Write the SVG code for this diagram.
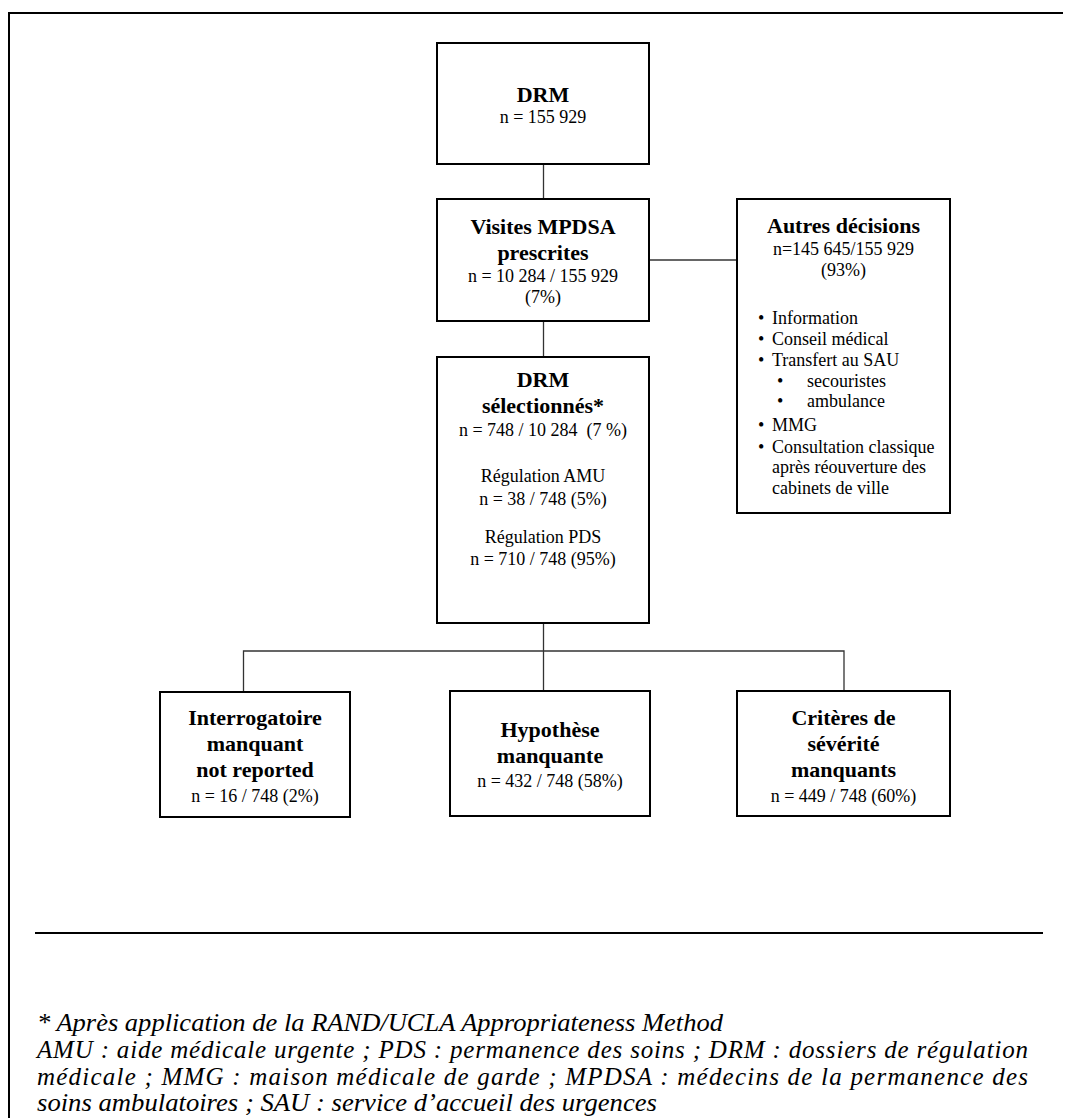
<svg xmlns="http://www.w3.org/2000/svg" width="1073" height="1118" viewBox="0 0 1073 1118" font-family="'Liberation Serif', 'DejaVu Serif', serif">
<style>
.box{fill:#fff;stroke:#000;stroke-width:2}
.ln{stroke:#333;stroke-width:1.3;fill:none}
text{fill:#000}
.b{font-weight:bold;font-size:22px;text-anchor:middle}
.r{font-size:18px;text-anchor:middle}
.l{font-size:18px}
.fn{font-size:25px;font-style:italic}
</style>
<rect width="1073" height="1118" fill="#fff"/>
<g id="frame">
<line x1="9" y1="13" x2="1063" y2="13" stroke="#000" stroke-width="2"/>
<line x1="9" y1="12" x2="9" y2="1118" stroke="#000" stroke-width="2"/>
</g>
<g id="connectors">
<line class="ln" x1="543.5" y1="164" x2="543.5" y2="199"/>
<line class="ln" x1="649" y1="260" x2="737" y2="260"/>
<line class="ln" x1="543.5" y1="321" x2="543.5" y2="357"/>
<line class="ln" x1="543.5" y1="623" x2="543.5" y2="691"/>
<polyline class="ln" points="243.5,692 243.5,651 844,651 844,691"/>
</g>
<g id="n-drm">
<rect class="box" x="437" y="43" width="212" height="121"/>
<text class="b" x="543" y="102">DRM</text>
<text class="r" x="543" y="123">n = 155 929</text>
</g>
<g id="n-visites">
<rect class="box" x="437" y="199" width="212" height="122"/>
<text class="b" x="543" y="234">Visites MPDSA</text>
<text class="b" x="543" y="260">prescrites</text>
<text class="r" x="543" y="282">n = 10 284 / 155 929</text>
<text class="r" x="543" y="303">(7%)</text>
</g>
<g id="n-autres">
<rect class="box" x="737" y="199" width="213" height="314"/>
<text class="b" x="843.5" y="233">Autres décisions</text>
<text class="r" x="843.5" y="255">n=145 645/155 929</text>
<text class="r" x="843.5" y="276">(93%)</text>
<text class="l" x="758" y="324">•</text><text class="l" x="772" y="324">Information</text>
<text class="l" x="758" y="345">•</text><text class="l" x="772" y="345">Conseil médical</text>
<text class="l" x="758" y="366">•</text><text class="l" x="772" y="366">Transfert au SAU</text>
<text class="l" x="777" y="387">•</text><text class="l" x="807" y="387">secouristes</text>
<text class="l" x="777" y="407">•</text><text class="l" x="807" y="407">ambulance</text>
<text class="l" x="758" y="431">•</text><text class="l" x="772" y="431">MMG</text>
<text class="l" x="758" y="453">•</text><text class="l" x="772" y="453">Consultation classique</text>
<text class="l" x="772" y="473">après réouverture des</text>
<text class="l" x="772" y="494">cabinets de ville</text>
</g>
<g id="n-selection">
<rect class="box" x="437" y="357" width="212" height="266"/>
<text class="b" x="543" y="387">DRM</text>
<text class="b" x="543" y="413">sélectionnés*</text>
<text class="r" x="543" y="436" xml:space="preserve">n = 748 / 10 284  (7 %)</text>
<text class="r" x="543" y="482">Régulation AMU</text>
<text class="r" x="543" y="505">n = 38 / 748 (5%)</text>
<text class="r" x="543" y="543">Régulation PDS</text>
<text class="r" x="543" y="565">n = 710 / 748 (95%)</text>
</g>
<g id="n-interrogatoire">
<rect class="box" x="160" y="692" width="190" height="125"/>
<text class="b" x="255" y="725">Interrogatoire</text>
<text class="b" x="255" y="751">manquant</text>
<text class="b" x="255" y="777">not reported</text>
<text class="r" x="255" y="802">n = 16 / 748 (2%)</text>
</g>
<g id="n-hypothese">
<rect class="box" x="450" y="691" width="200" height="125"/>
<text class="b" x="550" y="737">Hypothèse</text>
<text class="b" x="550" y="763">manquante</text>
<text class="r" x="550" y="787">n = 432 / 748 (58%)</text>
</g>
<g id="n-criteres">
<rect class="box" x="737" y="691" width="213" height="125"/>
<text class="b" x="843.5" y="725">Critères de</text>
<text class="b" x="843.5" y="751">sévérité</text>
<text class="b" x="843.5" y="777">manquants</text>
<text class="r" x="843.5" y="802">n = 449 / 748 (60%)</text>
</g>
<g id="footnote">
<line x1="35" y1="933" x2="1043" y2="933" stroke="#000" stroke-width="2"/>
<text class="fn" x="37" y="1031" textLength="686" lengthAdjust="spacingAndGlyphs">* Après application de la RAND/UCLA Appropriateness Method</text>
<text class="fn" x="37" y="1058" textLength="991" lengthAdjust="spacing">AMU : aide médicale urgente ; PDS : permanence des soins ; DRM : dossiers de régulation</text>
<text class="fn" x="37" y="1085" textLength="991" lengthAdjust="spacing">médicale ; MMG : maison médicale de garde ; MPDSA : médecins de la permanence des</text>
<text class="fn" x="37" y="1111" textLength="620" lengthAdjust="spacingAndGlyphs">soins ambulatoires ; SAU : service d’accueil des urgences</text>
</g>
</svg>
